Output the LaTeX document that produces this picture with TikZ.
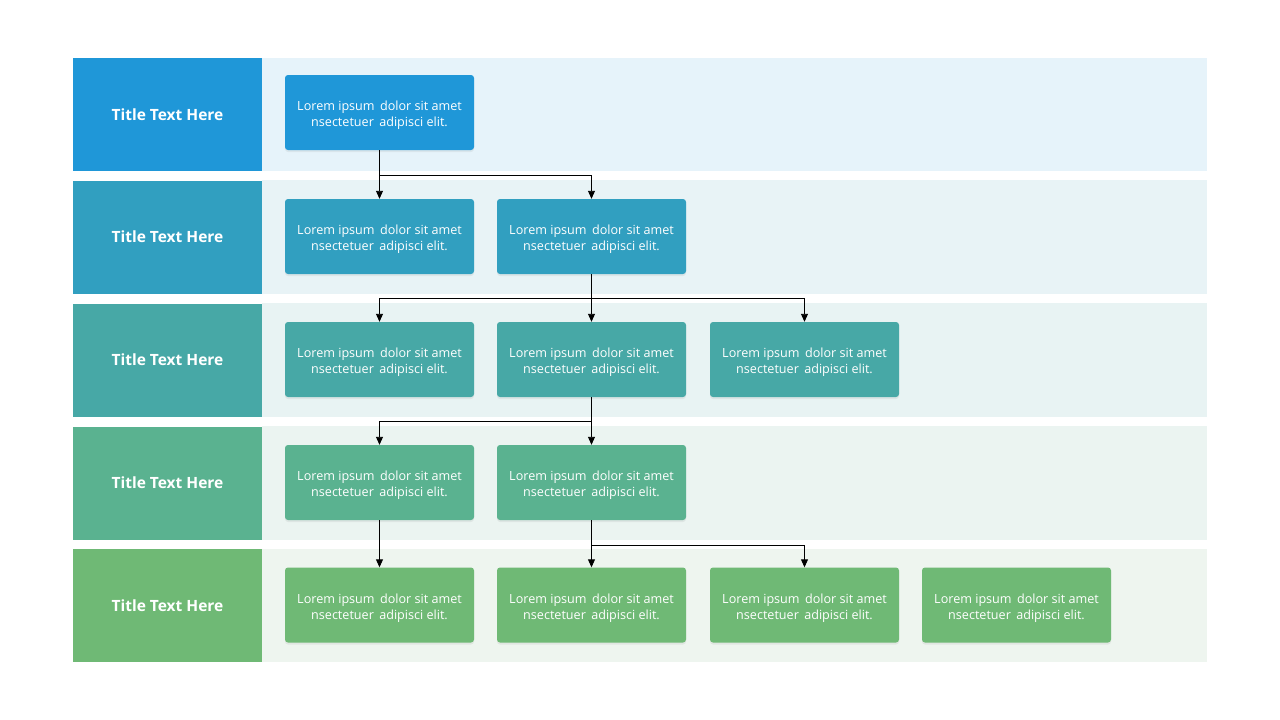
\documentclass[tikz,border=0pt]{standalone}
\usepackage{fontspec}
\setmainfont{Open Sans}
\usetikzlibrary{arrows.meta,shadows}
\definecolor{c1}{HTML}{1F97D8}
\definecolor{c2}{HTML}{319FC0}
\definecolor{c3}{HTML}{47A8A6}
\definecolor{c4}{HTML}{5AB290}
\definecolor{c5}{HTML}{6FB975}
\definecolor{l1}{HTML}{E6F3FA}
\definecolor{l2}{HTML}{E8F3F6}
\definecolor{l3}{HTML}{E8F3F3}
\definecolor{l4}{HTML}{EBF4F1}
\definecolor{l5}{HTML}{EEF5EF}
\tikzset{
  titlebox/.style={minimum width=189pt,minimum height=113pt,inner sep=0pt,text=white,
    font=\fontsize{15.5}{18}\selectfont\bfseries},
  lbox/.style={rounded corners=3pt,minimum width=189pt,minimum height=75pt,inner sep=0pt,
    text=white,align=center,font=\fontsize{12.6}{16}\selectfont,
    drop shadow={opacity=0.12,shadow xshift=0pt,shadow yshift=-2pt}},
  arr/.style={draw=black,line width=0.9pt,-{Triangle[length=8pt,width=7pt]}},
}
\newcommand{\lt}{\rule{0pt}{15.5pt}Lorem ipsum\ \,dolor sit amet\\nsectetuer\ \,adipisci elit.}
\begin{document}
\begin{tikzpicture}[x=1pt,y=-1pt]
\useasboundingbox[fill=white] (0,0) rectangle (1280,720);
% bands
\fill[l1] (262,58) rectangle (1207,171);
\fill[l2] (262,180) rectangle (1207,294);
\fill[l3] (262,303) rectangle (1207,417);
\fill[l4] (262,426) rectangle (1207,540);
\fill[l5] (262,549) rectangle (1207,662);
% titles
\node[titlebox,fill=c1] (t1) at (167.5,114.5) {Title Text Here};
\node[titlebox,fill=c2] (t2) at (167.5,237) {Title Text Here};
\node[titlebox,fill=c3] (t3) at (167.5,360) {Title Text Here};
\node[titlebox,fill=c4] (t4) at (167.5,483) {Title Text Here};
\node[titlebox,fill=c5] (t5) at (167.5,605.5) {Title Text Here};
% boxes
\node[lbox,fill=c1] (b11) at (379.5,112.5) {\lt};
\node[lbox,fill=c2] (b21) at (379.5,236.5) {\lt};
\node[lbox,fill=c2] (b22) at (591.5,236.5) {\lt};
\node[lbox,fill=c3] (b31) at (379.5,359.5) {\lt};
\node[lbox,fill=c3] (b32) at (591.5,359.5) {\lt};
\node[lbox,fill=c3] (b33) at (804.5,359.5) {\lt};
\node[lbox,fill=c4] (b41) at (379.5,482.5) {\lt};
\node[lbox,fill=c4] (b42) at (591.5,482.5) {\lt};
\node[lbox,fill=c5] (b51) at (379.5,605) {\lt};
\node[lbox,fill=c5] (b52) at (591.5,605) {\lt};
\node[lbox,fill=c5] (b53) at (804.5,605) {\lt};
\node[lbox,fill=c5] (b54) at (1016.5,605) {\lt};
% connectors
\draw[arr] (b11.south) -- (b21.north);
\draw[arr] (b11.south) -- ++(0,25) -| (b22.north);
\draw[arr] (b22.south) -- (b32.north);
\draw[arr] (b22.south) -- ++(0,24) -| (b31.north);
\draw[arr] (b22.south) -- ++(0,24) -| (b33.north);
\draw[arr] (b32.south) -- (b42.north);
\draw[arr] (b32.south) -- ++(0,24) -| (b41.north);
\draw[arr] (b41.south) -- (b51.north);
\draw[arr] (b42.south) -- (b52.north);
\draw[arr] (b42.south) -- ++(0,25) -| (b53.north);
\end{tikzpicture}
\end{document}
